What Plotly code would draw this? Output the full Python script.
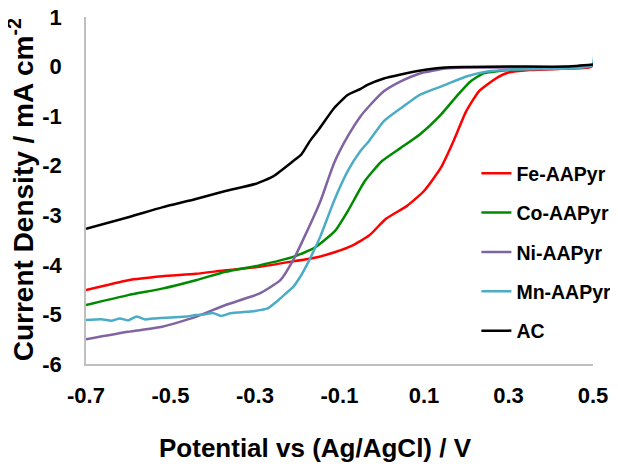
import plotly.graph_objects as go

# ── data (potential in V vs Ag/AgCl, current density in mA cm-2) ──
fe_x = [-0.70, -0.60, -0.52, -0.44, -0.37, -0.29, -0.21, -0.15, -0.11, -0.07, -0.03,
        0.01, 0.06, 0.10, 0.14, 0.17, 0.20, 0.23, 0.27, 0.30, 0.35, 0.44, 0.49, 0.50]
fe_y = [-4.51, -4.31, -4.23, -4.18, -4.11, -4.04, -3.93, -3.84, -3.74, -3.61, -3.41,
        -3.07, -2.81, -2.51, -2.04, -1.50, -0.90, -0.50, -0.24, -0.12, -0.07, -0.04, -0.02, 0.02]

co_x = [-0.70, -0.60, -0.52, -0.44, -0.37, -0.29, -0.21, -0.16, -0.11, -0.08, -0.04,
        0.00, 0.045, 0.09, 0.14, 0.18, 0.21, 0.24, 0.30, 0.36, 0.44, 0.50]
co_y = [-4.81, -4.61, -4.48, -4.31, -4.14, -4.01, -3.84, -3.66, -3.31, -2.91, -2.31,
        -1.91, -1.64, -1.37, -0.97, -0.57, -0.30, -0.14, -0.07, -0.04, -0.03, 0.02]

ni_x = [-0.70, -0.60, -0.52, -0.44, -0.37, -0.29, -0.24, -0.21, -0.18, -0.145, -0.113,
        -0.08, -0.05, -0.03, 0.005, 0.045, 0.09, 0.15, 0.20, 0.30, 0.40, 0.50]
ni_y = [-5.50, -5.35, -5.25, -5.05, -4.81, -4.58, -4.31, -3.91, -3.38, -2.71, -1.95,
        -1.40, -1.00, -0.80, -0.50, -0.30, -0.14, -0.04, -0.02, -0.02, -0.02, 0.02]

mn_x = [-0.70, -0.66, -0.64, -0.62, -0.60, -0.58, -0.56, -0.54, -0.50, -0.46, -0.44,
        -0.42, -0.40, -0.38, -0.36, -0.34, -0.30, -0.27, -0.25, -0.23, -0.21, -0.19,
        -0.176, -0.16, -0.145, -0.113, -0.08, -0.05, -0.03, 0.005, 0.045, 0.09, 0.15,
        0.20, 0.25, 0.31, 0.44, 0.49, 0.50, 0.503]
mn_y = [-5.11, -5.10, -5.13, -5.08, -5.12, -5.04, -5.10, -5.08, -5.06, -5.04, -5.01,
        -5.00, -4.97, -5.03, -4.98, -4.96, -4.93, -4.88, -4.75, -4.60, -4.45, -4.20,
        -3.98, -3.70, -3.42, -2.71, -2.10, -1.70, -1.50, -1.10, -0.84, -0.57, -0.37,
        -0.20, -0.10, -0.06, -0.04, 0.00, 0.05, 0.22]

ac_x = [-0.70, -0.60, -0.52, -0.44, -0.37, -0.30, -0.256, -0.21, -0.19, -0.17, -0.15,
        -0.113, -0.08, -0.05, -0.034, 0.005, 0.045, 0.085, 0.15, 0.20, 0.30, 0.44, 0.50]
ac_y = [-3.27, -3.04, -2.84, -2.67, -2.51, -2.37, -2.21, -1.91, -1.77, -1.50, -1.28,
        -0.84, -0.57, -0.45, -0.37, -0.24, -0.16, -0.09, -0.02, -0.01, 0.00, 0.00, 0.04]

x_ticks = [-0.7, -0.5, -0.3, -0.1, 0.1, 0.3, 0.5]
y_ticks = [1, 0, -1, -2, -3, -4, -5, -6]

series = [
    ("Fe-AAPyr", fe_x, fe_y, "#FF0000"),
    ("Co-AAPyr", co_x, co_y, "#008A00"),
    ("Ni-AAPyr", ni_x, ni_y, "#8064A2"),
    ("Mn-AAPyr", mn_x, mn_y, "#4BACC6"),
    ("AC", ac_x, ac_y, "#000000"),
]

FONT = "Liberation Sans, Arial, sans-serif"

fig = go.Figure()
for i, (name, xs, ys, color) in enumerate(series):
    fig.add_trace(go.Scatter(
        x=xs, y=ys, name=name, mode="lines",
        line=dict(color=color, width=2.5, shape="spline", smoothing=0.5),
        legendgroup=f"g{i}",
    ))

# 轴标题（用注释精确定位）
fig.add_annotation(
    text="Potential vs (Ag/AgCl) / V",
    xref="paper", yref="paper", x=0.452, y=-0.242,
    xanchor="center", yanchor="middle", showarrow=False,
    font=dict(family=FONT, size=26, color="black", weight="bold"),
)
fig.add_annotation(
    text="Current Density / mA cm<sup>-2</sup>",
    xref="paper", yref="paper", x=-0.128, y=0.501,
    xanchor="center", yanchor="middle", showarrow=False, textangle=-90,
    font=dict(family=FONT, size=28, color="black", weight="bold"),
)

# 页面 body 自带 8px 外边距，图尺寸与边距相应缩小；图例不撑开边距
fig.update_layout(
    width=610, height=459,
    margin=dict(l=78, r=25, t=9, b=103, autoexpand=False),
    plot_bgcolor="white", paper_bgcolor="white",
    showlegend=True,
    legend=dict(
        x=0.77, y=0.605, xanchor="left", yanchor="top",
        traceorder="grouped", tracegroupgap=11,
        font=dict(family=FONT, size=19.5, color="black", weight="bold"),
        bgcolor="rgba(0,0,0,0)", itemwidth=30,
    ),
    font=dict(family=FONT, color="black"),
)
fig.update_xaxes(
    range=[-0.7, 0.5], tickvals=x_ticks, ticktext=[f"{v:.1f}" for v in x_ticks],
    showgrid=False, zeroline=False, showline=True, linecolor="#BFBFBF", linewidth=1.5,
    ticks="", ticklabelstandoff=11, automargin=False, ticklabeloverflow="allow",
    tickfont=dict(family=FONT, size=22, color="black", weight="bold"),
)
fig.update_yaxes(
    range=[-6, 1], tickvals=y_ticks, ticktext=[str(v) for v in y_ticks],
    showgrid=False, zeroline=False, showline=True, linecolor="#BFBFBF", linewidth=1.5,
    ticks="", ticklabelstandoff=18, automargin=False, ticklabeloverflow="allow",
    tickfont=dict(family=FONT, size=22, color="black", weight="bold"),
)

fig.write_html("out.html")
